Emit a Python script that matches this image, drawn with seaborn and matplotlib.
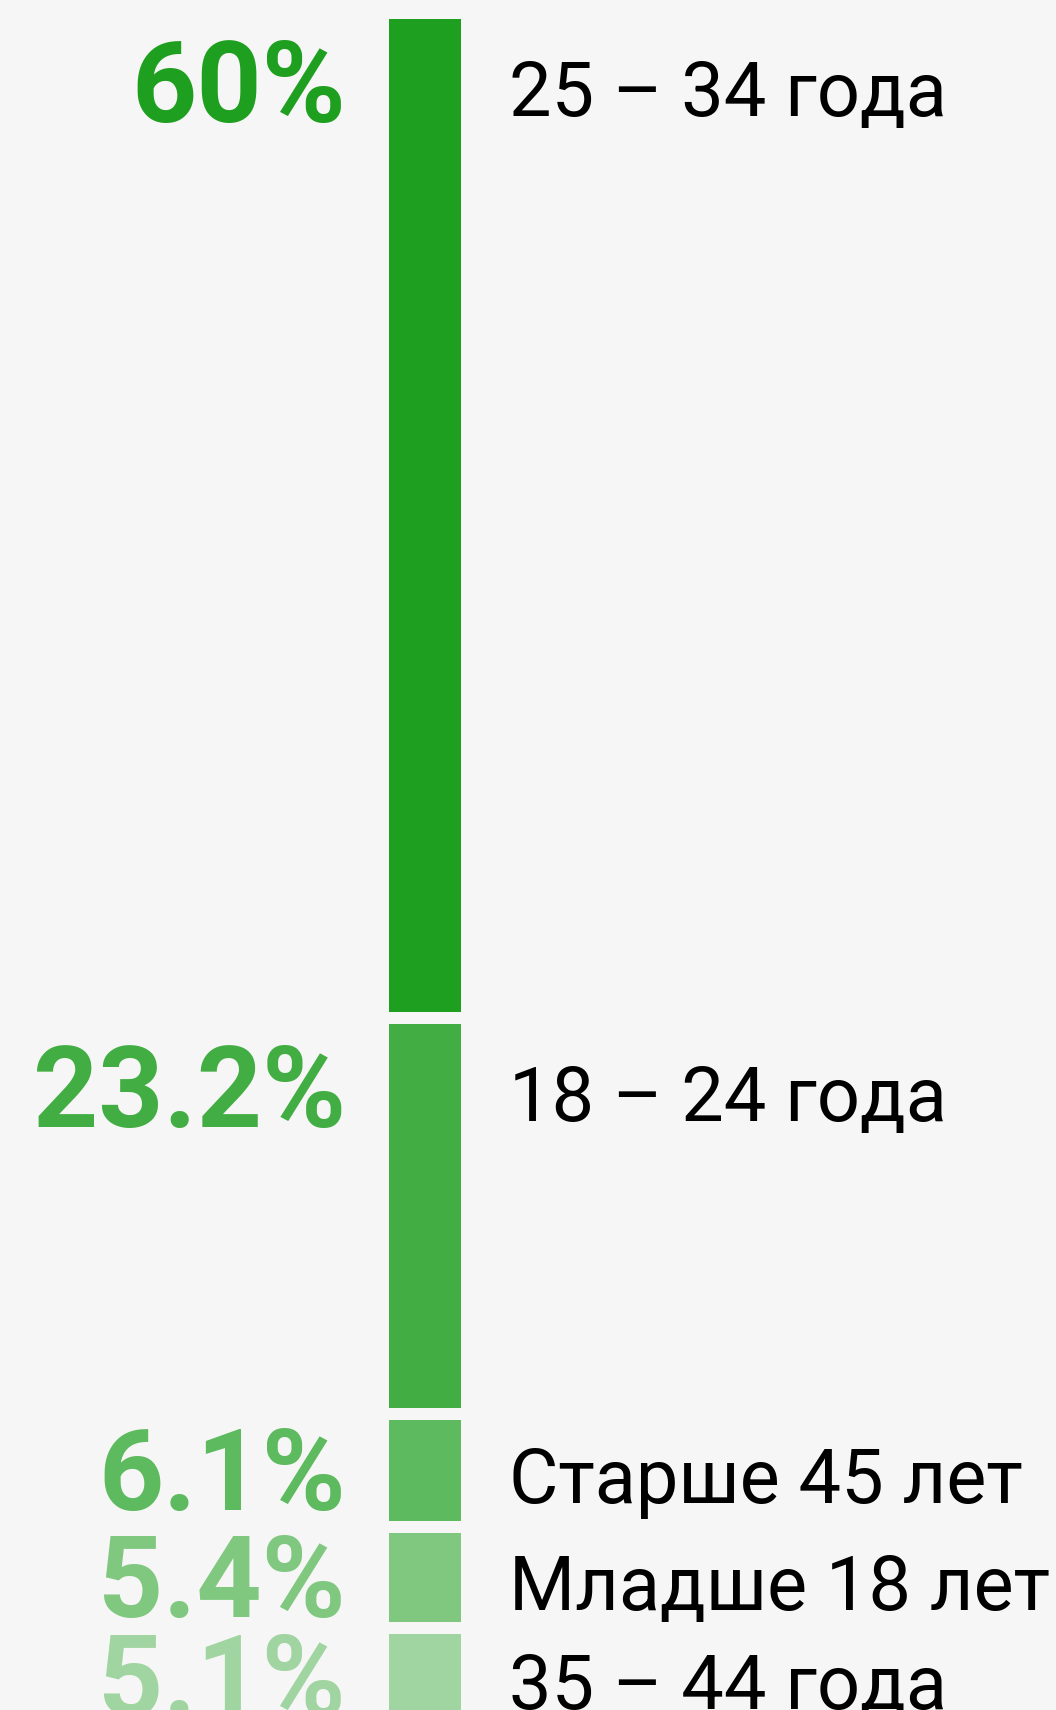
import numpy as np
import pandas as pd
import seaborn as sns
import matplotlib.pyplot as plt

# data
groups = ["25 – 34 года", "18 – 24 года", "Старше 45 лет", "Младше 18 лет", "35 – 44 года"]
shares = [60.0, 23.2, 6.1, 5.4, 5.1]
share_labels = ["60%", "23.2%", "6.1%", "5.4%", "5.1%"]
colors = ["#1f9f1f", "#42ad42", "#5eba5e", "#80c780", "#a0d4a0"]

gap = 0.72          # space between segments, in percent units
label_cap = 3.85    # big segments get their label near the top

sns.set_theme(style="white")
plt.rcParams["font.family"] = ["Roboto", "DejaVu Sans"]

df = pd.DataFrame({"group": groups, "share": shares, "label": share_labels, "color": colors})
df["start"] = df["share"].shift(fill_value=0).cumsum() + gap * np.arange(len(df))
df["pos"] = df["start"] + np.minimum(df["share"] / 2, label_cap)

fig = plt.figure(figsize=(10.56, 17.10), dpi=100)
fig.patch.set_facecolor("#f6f6f6")
ax = fig.add_axes([0, 0, 1, 1])
ax.set_facecolor("#f6f6f6")

for _, row in df.iterrows():
    sns.barplot(x=["all"], y=[row["share"]], bottom=row["start"], color=row["color"],
                width=1.0, saturation=1, linewidth=0, ax=ax)
    ax.text(-1.10, row["pos"] + 2.4, row["label"], ha="right", va="baseline",
            fontsize=82, fontweight="bold", color=row["color"])
    ax.text(1.17, row["pos"] + 2.0, row["group"], ha="left", va="baseline",
            fontsize=54.5, color="black")

ax.set_xlim(-5.90, 8.76)
ax.set_ylim(102.18, -1.148)
ax.set_axis_off()

fig.savefig("out.png", dpi=100, facecolor=fig.get_facecolor())
